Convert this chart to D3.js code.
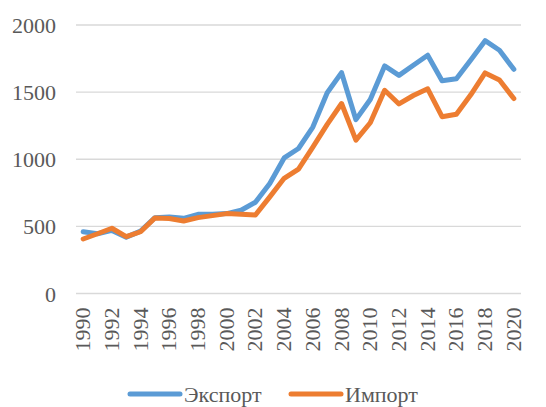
<!DOCTYPE html>
<html>
<head>
<meta charset="utf-8">
<script src="https://cdn.jsdelivr.net/npm/d3@7"></script>
</head>
<body style="margin:0">
<svg id="chart" width="546" height="407"></svg>
<script>
const years = d3.range(1990, 2021);
const exportValues = [460, 445, 470, 420, 465, 565, 570, 560, 590, 590, 595, 620, 680, 820, 1010, 1080, 1240, 1495, 1645, 1295, 1445, 1695, 1625, 1700, 1775, 1585, 1600, 1740, 1883, 1812, 1670];
const importValues = [406, 445, 486, 423, 460, 563, 558, 540, 565, 580, 595, 590, 585, 720, 858, 927, 1090, 1260, 1415, 1143, 1272, 1514, 1412, 1475, 1525, 1317, 1335, 1480, 1643, 1590, 1452];
const yTicks = [0, 500, 1000, 1500, 2000];
const seriesNames = ["Экспорт", "Импорт"];
const seriesColors = ["#5B9BD5", "#ED7D31"];

const svg = d3.select("#chart");
const margin = { left: 76, right: 25, top: 25, bottom: 113.5 };
const W = 546, H = 407;

const x = d3.scaleBand().domain(years).range([margin.left, W - margin.right]);
const y = d3.scaleLinear().domain([0, 2000]).range([H - margin.bottom, margin.top]);

// adds a label in the chart's serif face
function label(sel) {
  return sel.style("font-family", '"Times New Roman"').attr("font-size", 22).attr("fill", "#595959");
}

// horizontal gridlines
svg.selectAll("line.grid")
  .data(yTicks)
  .join("line")
  .attr("class", "grid")
  .attr("x1", margin.left).attr("x2", W - margin.right)
  .attr("y1", d => y(d)).attr("y2", d => y(d))
  .attr("stroke", "#d9d9d9").attr("stroke-width", 1.3);

// y axis labels
svg.selectAll("text.ylab")
  .data(yTicks)
  .join("text")
  .attr("class", "ylab")
  .attr("x", 56).attr("y", d => y(d) + 8)
  .attr("text-anchor", "end")
  .call(label)
  .text(d => d);

// x axis labels (every second year, rotated)
svg.selectAll("text.xlab")
  .data(years.filter(d => (d - 1990) % 2 === 0))
  .join("text")
  .attr("class", "xlab")
  .attr("transform", d => `translate(${x(d) + x.bandwidth() / 2 + 7},${y(0) + 14}) rotate(-90)`)
  .attr("text-anchor", "end")
  .call(label)
  .text(d => d);

const line = d3.line()
  .x((d, i) => x(years[i]) + x.bandwidth() / 2)
  .y(d => y(d));

[exportValues, importValues].forEach((vals, k) => {
  svg.append("path")
    .datum(vals)
    .attr("d", line)
    .attr("fill", "none")
    .attr("stroke", seriesColors[k])
    .attr("stroke-width", 5)
    .attr("stroke-linejoin", "round")
    .attr("stroke-linecap", "round");
});

// legend
const legendItems = [
  { name: seriesNames[0], color: seriesColors[0], x: 130 },
  { name: seriesNames[1], color: seriesColors[1], x: 291 }
];
legendItems.forEach(it => {
  svg.append("line")
    .attr("x1", it.x).attr("x2", it.x + 50)
    .attr("y1", 394).attr("y2", 394)
    .attr("stroke", it.color).attr("stroke-width", 5)
    .attr("stroke-linecap", "round");
  svg.append("text")
    .attr("x", it.x + 54).attr("y", 402)
    .call(label)
    .text(it.name);
});
</script>
</body>
</html>
